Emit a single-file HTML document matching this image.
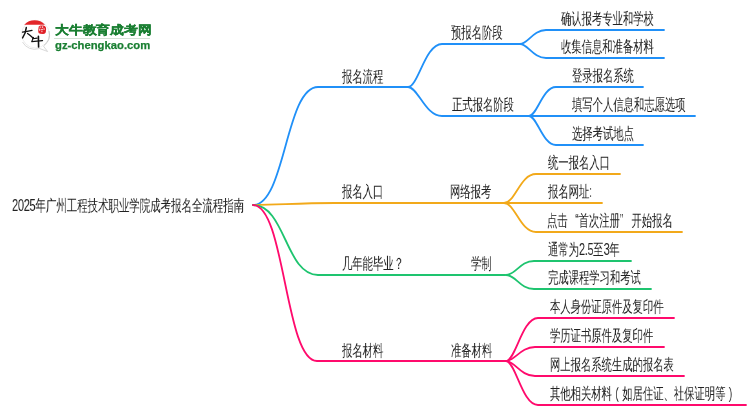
<!DOCTYPE html>
<html><head><meta charset="utf-8">
<style>
html,body{margin:0;padding:0;background:#fff;}
body{width:750px;height:410px;position:relative;overflow:hidden;font-family:"Liberation Sans",sans-serif;}
svg{position:absolute;left:0;top:0;}
.t{position:absolute;white-space:nowrap;font-size:16px;line-height:16px;color:#222;font-weight:500;transform:scaleX(0.645);transform-origin:0 0;will-change:transform;}
.logo1{position:absolute;left:54.6px;top:23px;font-size:12px;line-height:14px;font-weight:900;color:#1a7f32;-webkit-text-stroke:0.3px #1a7f32;white-space:nowrap;transform:scaleX(1.15);transform-origin:0 0;will-change:transform;}
.logo2{position:absolute;left:55.3px;top:39px;font-size:11px;line-height:12px;font-weight:bold;color:#1a7f32;-webkit-text-stroke:0.25px #1a7f32;white-space:nowrap;transform:scaleX(1.025);transform-origin:0 0;will-change:transform;}
.sep{position:absolute;left:54px;top:37.6px;width:96px;height:1.6px;background:#d3e2d5;}
.q{display:inline-block;width:18.6px;}
.p{display:inline-block;width:16px;text-align:center;}
.n{font-size:17px;letter-spacing:-0.5px;}
</style></head><body>
<svg width="750" height="410" viewBox="0 0 750 410" fill="none" stroke-width="1.8" stroke-linecap="round">
<g stroke="#2090f8">
<path d="M253,205 C285.5,205 285.5,87 318,87 L408,87"/>
<path d="M408,87 C418.2,87 425.0,44 442,44 L520,44"/>
<path d="M408,87 C418.2,87 425.0,116 442,116 L529,116"/>
<path d="M520,44 C527.8,44 533.0,30 546,30 L664,30"/>
<path d="M520,44 C527.8,44 533.0,58 546,58 L664,58"/>
<path d="M529,116 C537.1,116 542.5,87 556,87 L643,87"/>
<path d="M529,116 L695,116"/>
<path d="M529,116 C537.1,116 542.5,145 556,145 L643,145"/>
</g>
<g stroke="#f2a91a">
<path d="M253,205 C280,205 295,203 335,203 L504,203"/>
<path d="M504,203 C515.2,203 520.0,174 536,174 L620,174"/>
<path d="M504,203 L602,203"/>
<path d="M504,203 C515.2,203 520.0,232 536,232 L682,232"/>
</g>
<g stroke="#1ec46f">
<path d="M253,205 C285.5,205 285.5,275 318,275 L505,275"/>
<path d="M506,275 C515.8,275 520.0,261 534,261 L631,261"/>
<path d="M506,275 C515.8,275 520.0,289 534,289 L651,289"/>
</g>
<g stroke="#ff0a6c">
<path d="M253,205 C285.0,205 285.0,361 317,361 L506,361"/>
<path d="M506,361 C515.6,361 522.0,318 538,318 L674,318"/>
<path d="M506,361 C514.7,361 520.5,347 535,347 L664,347"/>
<path d="M506,361 C514.7,361 520.5,376 535,376 L684,376"/>
<path d="M506,361 C515.6,361 522.0,405 538,405 L746,405"/>
</g>
</svg>

<svg width="60" height="60" viewBox="0 0 60 60" style="position:absolute;left:0;top:0">
  <circle cx="35.5" cy="34.2" r="13.8" fill="#fff" stroke="#e2e2e2" stroke-width="0.6"/>
  <path d="M49,31 A13.8,13.8 0 0 1 44,45.5" fill="none" stroke="#c2c2c2" stroke-width="0.9"/>
  <path d="M22.5,42 A13.8,13.8 0 0 0 39,48.6" fill="none" stroke="#cfcfcf" stroke-width="0.8"/>
  <path d="M43.2,45.8 L47.6,51.5 L39,48.3" fill="#fff" stroke="#c8c8c8" stroke-width="0.7"/>
  <path d="M24.2,24.7 A14.5,14.5 0 0 1 45,24.7 Z" fill="#e3262a"/>
  <path d="M38.5,28 Q38.2,25.8 40.5,25.5 L43.5,25.6 Q46.2,26.2 46.1,29 L45.8,32.3 Q45.4,34.2 43,34.1 L40.2,33.8 Q38,33.4 38.2,31 Z" fill="#e01f26"/>
  <g fill="#fff" opacity="0.85">
    <rect x="39.6" y="26.6" width="1.6" height="1" /><rect x="42" y="26.4" width="1.2" height="1.4"/>
    <rect x="39.2" y="28.6" width="1" height="2.2"/><rect x="40.8" y="28.9" width="2.2" height="0.9"/>
    <rect x="41.4" y="30.6" width="1" height="1.6"/><rect x="43.6" y="28.2" width="0.9" height="1.8"/>
  </g>
  <g fill="none" stroke="#111" stroke-linecap="round" stroke-linejoin="round">
    <path d="M26.3,27.6 Q25.8,33 22.6,37.9" stroke-width="1.5"/>
    <path d="M22.5,32.2 Q27,31.4 32,30.3" stroke-width="1.3"/>
    <path d="M27.6,33.5 Q30.5,35.5 33.3,38.2" stroke-width="1.4"/>
    <path d="M33.5,37.4 L31.9,41.2" stroke-width="1.1"/>
    <path d="M32.6,38.8 L37.2,38.1" stroke-width="1.1"/>
    <path d="M31.9,41.7 Q37,41.1 42.5,40.6" stroke-width="1.3"/>
    <path d="M38.4,36.2 L38.6,47" stroke-width="1.6"/>
  </g>
</svg>
<div class="sep"></div>
<div class="logo1">大牛教育成考网</div>
<div class="logo2">gz-chengkao.com</div>

<div class="t" style="left:11.5px;top:197.5px;transform:scaleX(0.652)"><span class="n">2025</span>年广州工程技术职业学院成考报名全流程指南</div>

<div class="t" style="left:342px;top:68.75px">报名流程</div>
<div class="t" style="left:342px;top:183.75px">报名入口</div>
<div class="t" style="left:342px;top:255.75px">几年能毕业？</div>
<div class="t" style="left:342px;top:342.75px">报名材料</div>

<div class="t" style="left:451px;top:24.75px">预报名阶段</div>
<div class="t" style="left:452px;top:96.75px">正式报名阶段</div>
<div class="t" style="left:450px;top:183.75px">网络报考</div>
<div class="t" style="left:471px;top:255.75px">学制</div>
<div class="t" style="left:451px;top:342.75px">准备材料</div>

<div class="t" style="left:560.75px;top:10.75px">确认报考专业和学校</div>
<div class="t" style="left:560.75px;top:38.75px">收集信息和准备材料</div>
<div class="t" style="left:571.75px;top:67.75px">登录报名系统</div>
<div class="t" style="left:571.75px;top:96.75px">填写个人信息和志愿选项</div>
<div class="t" style="left:571.75px;top:125.75px">选择考试地点</div>
<div class="t" style="left:547.75px;top:154.75px">统一报名入口</div>
<div class="t" style="left:547.75px;top:183.75px">报名网址:</div>
<div class="t" style="left:546.5px;top:212.75px">点击<span class="q" style="text-align:right;width:17px">“</span>首次注册<span class="q" style="width:17.5px">”</span>开始报名</div>
<div class="t" style="left:547.75px;top:241.75px">通常为<span class="n">2.5</span>至<span class="n">3</span>年</div>
<div class="t" style="left:547.75px;top:269.75px">完成课程学习和考试</div>
<div class="t" style="left:549.75px;top:298.75px">本人身份证原件及复印件</div>
<div class="t" style="left:549.75px;top:327.75px">学历证书原件及复印件</div>
<div class="t" style="left:549.75px;top:356.75px">网上报名系统生成的报名表</div>
<div class="t" style="left:549.75px;top:385.75px">其他相关材料<span class="p">(</span>如居住证、社保证明等<span class="p">)</span></div>
</body></html>
